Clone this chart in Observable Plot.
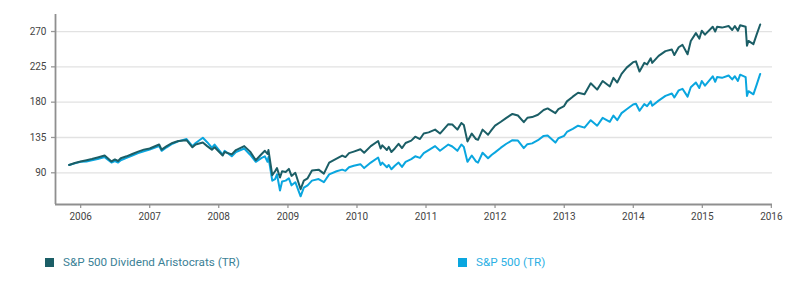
<!DOCTYPE html>
<html>
<head>
<meta charset="utf-8">
<script src="https://cdn.jsdelivr.net/npm/d3@7"></script>
<script src="https://cdn.jsdelivr.net/npm/@observablehq/plot@0.6"></script>
<style>
  html, body { margin: 0; padding: 0; background: #fff; }
  #wrap { position: relative; width: 800px; height: 292px; overflow: hidden; font-family: Roboto, sans-serif; }
  #chart { position: absolute; left: 0; top: 0; }
  .leg { position: absolute; top: 255px; display: flex; align-items: center; font-size: 11.7px; white-space: nowrap; }
  .sw { width: 9px; height: 9px; margin-right: 9px; }
</style>
</head>
<body>
<div id="wrap">
  <div id="chart"></div>
  <div class="leg" id="leg0" style="left:45px"></div>
  <div class="leg" id="leg1" style="left:458px"></div>
</div>
<script>
const seriesNames = ["S&P 500 Dividend Aristocrats (TR)", "S&P 500 (TR)"];
const seriesColors = ["#1b5e66", "#0aa6df"];
const legendTextColors = ["#3b8196", "#2cb0e4"];
const yTicks = [90, 135, 180, 225, 270];
const xTickYears = [2006, 2007, 2008, 2009, 2010, 2011, 2012, 2013, 2014, 2015, 2016];

const dates = [
"2005-11-01","2005-12-01","2006-01-01","2006-02-01","2006-03-01","2006-04-01","2006-05-08","2006-06-13","2006-07-01","2006-07-18",
"2006-08-01","2006-09-01","2006-10-01","2006-11-01","2006-12-01","2007-01-01","2007-02-20","2007-03-05","2007-04-01","2007-05-01",
"2007-06-01","2007-07-15","2007-08-15","2007-09-01","2007-10-09","2007-11-01","2007-11-26","2007-12-10","2008-01-22","2008-02-01",
"2008-03-10","2008-04-01","2008-05-15","2008-06-15","2008-07-15","2008-08-15","2008-09-01","2008-09-15","2008-09-20","2008-10-10",
"2008-10-25","2008-11-04","2008-11-20","2008-12-01","2008-12-20","2009-01-06","2009-01-20","2009-02-09","2009-03-09","2009-03-26",
"2009-04-15","2009-05-08","2009-06-12","2009-07-10","2009-08-07","2009-09-15","2009-10-15","2009-11-01","2009-11-20","2009-12-15",
"2010-01-19","2010-02-08","2010-03-15","2010-04-23","2010-05-06","2010-05-15","2010-06-08","2010-06-18","2010-07-02","2010-07-20",
"2010-08-09","2010-08-27","2010-09-15","2010-10-15","2010-11-05","2010-11-30","2010-12-20","2011-01-15","2011-02-18","2011-03-16",
"2011-04-29","2011-05-20","2011-06-16","2011-07-07","2011-07-20","2011-08-08","2011-08-31","2011-09-22","2011-10-03","2011-10-27",
"2011-11-25","2011-12-15","2012-01-01","2012-02-01","2012-03-01","2012-04-02","2012-05-01","2012-06-01","2012-06-20","2012-07-15",
"2012-08-15","2012-09-14","2012-10-05","2012-11-15","2012-12-01","2012-12-31","2013-01-15","2013-02-15","2013-03-15","2013-04-18",
"2013-05-21","2013-06-24","2013-07-23","2013-08-30","2013-09-18","2013-10-08","2013-10-31","2013-11-27","2013-12-31","2014-01-15",
"2014-02-03","2014-02-28","2014-03-15","2014-04-03","2014-04-11","2014-05-15","2014-06-20","2014-07-24","2014-08-06","2014-08-29",
"2014-09-18","2014-10-15","2014-11-01","2014-11-28","2014-12-16","2014-12-29","2015-01-15","2015-02-25","2015-03-10","2015-03-20",
"2015-04-15","2015-05-20","2015-06-08","2015-06-22","2015-07-08","2015-07-20","2015-08-18","2015-08-25","2015-09-02","2015-09-28",
"2015-10-15","2015-11-03"
];

const aristocrats = [
100,102.5,104.5,106,107.5,109.5,112,104.5,107,105,
108.5,111,114,117,119.5,121,126,119.5,124,128,
130.5,131.5,122.5,126,128.5,124,119.5,122.5,112,116.5,
113.5,119,124,117,106,114,118,114,119,87,
92,96,84,92,91,95,86,90,69,80,
83,93,94,89,103,108,112,110,115,117,
120,115.5,124,130.5,121,125,119,123,116.5,121,
127,121.5,128,131,136,133,140,141.5,145,140,
152,151.5,145,153.5,151,130,140,133,132,145,
138.5,145,150,155,160,165,163,154.5,160,161,
164,170,172,166,171,175,181,187,192,190,
204,196,207,200,211,205,216,224,231,232,
219,230,228,236,230,239,245,247,240,250,
253,241,258,268,261,271,266,276,270,276,
275,277,272,277,271,278,276,252,258,254,
266,279
];

const sp500 = [
100,102,104,104.5,106,107.5,110,103,105,103,
106,109,112,115,117.5,119.5,124,118,122.5,127,
130,133,124,128,134.6,129,122,126,113,118,
111,116.5,121,113,104,109,111,104,110,80,
82,88,67.5,79,80,83,74,78,60,71,
74,80,82,78,88,92,94,92.5,97,99,
101,96,103,109.5,100,103,97,100,94.5,99,
103,97.5,104,107.5,111,109,115,119,124,118,
126,123.5,118,126,123,104,112,104.5,103,115.5,
108.5,113,116,122,127,131.5,131,121.5,126.5,127.5,
131.5,137,137.5,128.5,134,137,142,146,150,147.5,
157,150,160,155,163,157,166,171,177,178,
169,177.5,175,181,175.5,182,188,191,186,195,
197,187,199,205,198,207,201,213,206,212,
211,214,209,213,207,215,212,188,194,190,
202,216
];

const rows = [];
dates.forEach((d, i) => {
  rows.push({date: new Date(d), value: sp500[i], series: seriesNames[1]});
});
dates.forEach((d, i) => {
  rows.push({date: new Date(d), value: aristocrats[i], series: seriesNames[0]});
});

const xTicks = xTickYears.map(y => new Date(Date.UTC(y, 0, 1)));
const yDomain = [49.6, 291.7];
const xDomain = [new Date("2005-08-21"), new Date("2016-01-07")];

const chart = Plot.plot({
  width: 800,
  height: 235,
  marginLeft: 55,
  marginRight: 28,
  marginTop: 14,
  marginBottom: 31,
  style: {fontFamily: "Roboto, sans-serif", fontSize: "10px", color: "#444", background: "#fff"},
  x: {type: "utc", domain: xDomain, label: null},
  y: {domain: yDomain, label: null},
  color: {domain: seriesNames, range: seriesColors},
  marks: [
    Plot.gridY(yTicks, {stroke: "#e2e2e2", strokeOpacity: 1, strokeWidth: 1.3}),
    Plot.axisY(yTicks, {tickSize: 4, tickPadding: 5, stroke: "#999", strokeWidth: 1.3, label: null}),
    Plot.axisX(xTicks, {tickFormat: d3.utcFormat("%Y"), tickSize: 4, tickPadding: 4, stroke: "#999", strokeWidth: 1.3, label: null}),
    Plot.lineY(rows, {x: "date", y: "value", stroke: "series", z: "series", strokeWidth: 2, strokeLinejoin: "round"}),
    Plot.ruleY([yDomain[0]], {stroke: "#8f8f8f", strokeWidth: 1.8}),
    Plot.ruleX([xDomain[0]], {stroke: "#8f8f8f", strokeWidth: 1.8})
  ]
});
document.getElementById("chart").appendChild(chart);

seriesNames.forEach((name, i) => {
  const el = document.getElementById("leg" + i);
  const sw = document.createElement("span");
  sw.className = "sw";
  sw.style.background = seriesColors[i];
  const tx = document.createElement("span");
  tx.textContent = name;
  tx.style.color = legendTextColors[i];
  el.appendChild(sw);
  el.appendChild(tx);
});
</script>
</body>
</html>
